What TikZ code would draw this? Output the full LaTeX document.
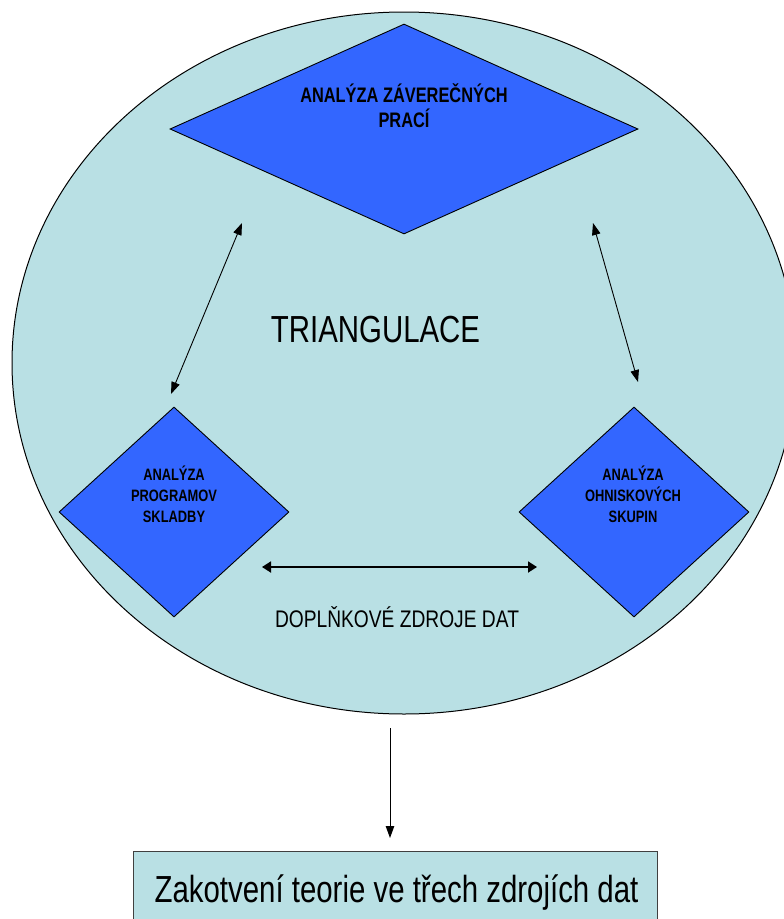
\documentclass[tikz,border=0pt]{standalone}
\usepackage{fontspec}
\setmainfont{Liberation Sans}
\newfontfamily\cond[FakeStretch=0.78]{Liberation Sans}
\newfontfamily\condsmall[FakeStretch=0.8]{Liberation Sans}
\usetikzlibrary{shapes.geometric,arrows.meta}
\definecolor{lightteal}{RGB}{185,224,228}
\definecolor{diablue}{RGB}{51,102,255}
\begin{document}
\begin{tikzpicture}[x=1pt,y=-1pt,
  dia/.style={diamond, draw=black, line width=0.9pt, fill=diablue, inner sep=0pt},
  bigtxt/.style={font=\cond\bfseries\fontsize{21}{25}\selectfont, align=center, inner sep=0pt},
  smalltxt/.style={font=\cond\bfseries\fontsize{16.5}{21}\selectfont, align=center, inner sep=0pt},
  conn/.style={line width=0.9pt, {Triangle[length=12pt,width=8.5pt]}-{Triangle[length=12pt,width=8.5pt]}},
  thickconn/.style={line width=1.8pt, {Triangle[length=9pt,width=11pt]}-{Triangle[length=9pt,width=11pt]}},
  onearrow/.style={line width=0.9pt, -{Triangle[length=12pt,width=8.5pt]}}
]
\useasboundingbox (0,0) rectangle (784,919);
\clip (0,0) rectangle (784,919);
\node[ellipse, draw=black, line width=1pt, fill=lightteal, inner sep=0pt,
      minimum width=784pt, minimum height=702pt] (circ) at (404,363) {};
% diamonds
\node[dia, minimum width=468pt, minimum height=210pt] (dtop) at (404,129) {};
\node[dia, minimum width=230pt, minimum height=210pt] (dleft) at (174,512) {};
\node[dia, minimum width=230pt, minimum height=210pt] (dright) at (634,512) {};
% diamond texts
\node[bigtxt] (ttop) at (404,106) {ANALÝZA ZÁVEREČNÝCH\\PRACÍ};
\node[smalltxt] (tleft) at (174,494) {ANALÝZA\\PROGRAMOV\\SKLADBY};
\node[smalltxt] (tright) at (633,494) {ANALÝZA\\OHNISKOVÝCH\\SKUPIN};
% labels
\node[font=\cond\fontsize{37.7}{40}\selectfont, anchor=base, inner sep=0pt] (tri) at (375.5,342) {TRIANGULACE};
\node[font=\condsmall\fontsize{24}{26}\selectfont, anchor=base, inner sep=0pt] (dopl) at (397,627) {DOPLŇKOVÉ ZDROJE DAT};
% bottom box
\node[draw=black!75, line width=1pt, fill=lightteal, minimum width=524pt, minimum height=80pt, inner sep=0pt, anchor=north west] (box) at (133,851) {};
\node[font=\cond\fontsize{37.7}{40}\selectfont, anchor=base, inner sep=0pt] (boxtxt) at (396.5,902) {Zakotvení teorie ve třech zdrojích dat};
% arrow endpoints
\coordinate (la) at (242,223);
\coordinate (lb) at (171,394);
\coordinate (ra) at (593,223);
\coordinate (rb) at (638,382);
\coordinate (ha) at (262,567);
\coordinate (hb) at (537,567);
\coordinate (va) at (390,728);
\coordinate (vb) at (390,838);
\draw[conn] (la) -- (lb);
\draw[conn] (ra) -- (rb);
\draw[thickconn] (ha) -- (hb);
\draw[onearrow] (va) -- (vb);
\end{tikzpicture}
\end{document}
